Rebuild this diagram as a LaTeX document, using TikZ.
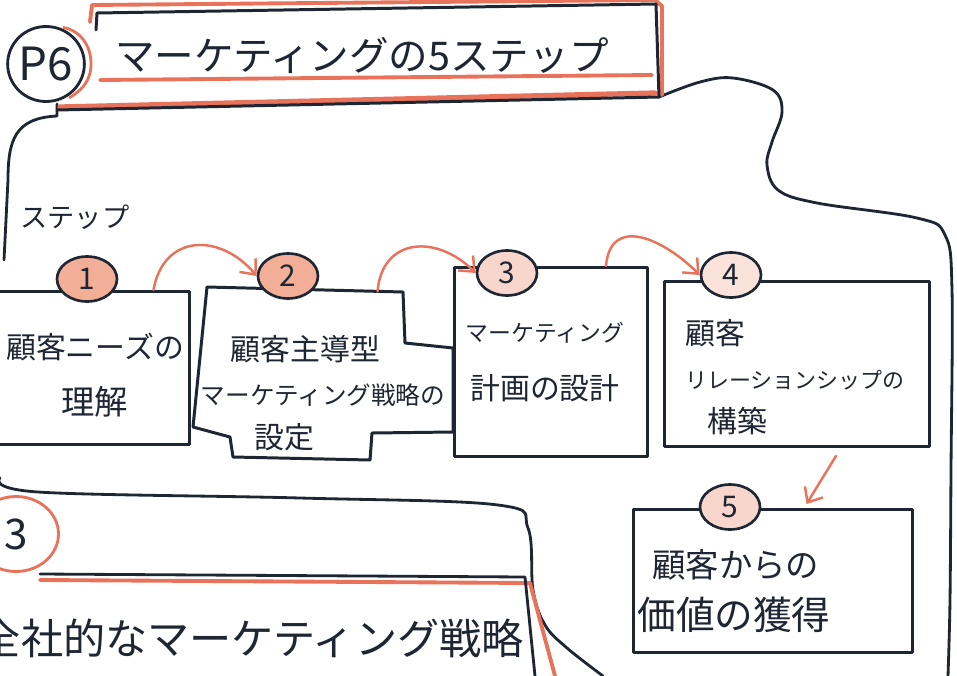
\documentclass[tikz,border=0pt]{standalone}
\usepackage{fontspec}
\setmainfont{Noto Sans CJK JP}
\usetikzlibrary{shapes.geometric,arrows.meta,calc}

\definecolor{ink}{HTML}{1F2633}
\definecolor{orng}{HTML}{E8735A}
\definecolor{orfill}{HTML}{F3AE98}
\newcommand\fsz[1]{\fontsize{#1}{#1}\selectfont}

\tikzset{
  frame/.style={draw=ink, line width=1.6pt, line cap=round, line join=round},
  stepbox/.style={draw=ink, line width=1.7pt, fill=white, line join=round},
  stepnum/.style={draw=ink, line width=1.5pt, ellipse, inner sep=0pt,
    minimum width=1.2cm, minimum height=0.9cm, text=ink, font=\fsz{17}},
  boxtext/.style={text=ink, inner sep=0pt, font={\fontsize{17}{#1}\selectfont}},
  boxtext/.default=30,
  flow/.style={draw=orng, line width=1.4pt, line cap=round,
    -{Straight Barb[length=7pt,width=12pt]}},
  redline/.style={draw=orng, line width=2.2pt, line cap=round, line join=round}
}

\begin{document}
\begin{tikzpicture}[x=0.02cm, y=-0.02cm]
    \fill[white] (0,0) rectangle (957,676);
    \useasboundingbox (0,0) rectangle (957,676);
    % Frame lines round the page
    \draw[frame] plot[smooth, tension=0.6] coordinates {(659,97) (700,82) (733,78) (773,90) (782,112) (772,142) (767,165) (778,190) (817,203) (917,218) (945,235) (952,290) (951,470) (950,600) (948,676)};
    \draw[frame] (57,104) -- (57,116) .. controls (15,118) and (8,140) .. (8,180) -- (4,260);
    \draw[frame] plot[smooth, tension=0.6] coordinates {(0,478) (38,492) (300,498) (498,505) (528,528) (533,590) (545,625) (567,648) (603,676)};
    % Section 3 heading
    \draw[redline] (40,580) -- (530,583) -- (555,676);
    \draw[frame] (40,574) -- (525,577) -- (535,676);
    \node[ellipse, draw=orng, line width=1.6pt, minimum width=1.7cm, minimum height=1.5cm, text=ink, font=\fsz{24}] (sec) at (16,534) {3};
    \node[text=ink, font=\fsz{24}, anchor=east] (sectitle) at (530,638) {全社的なマーケティング戦略};
    % Title box
    \draw[redline] (90,22) -- (92,5) -- (655,0) -- (662,6) -- (662,95);
    \draw[redline] (100,80) -- (652,75);
    \draw[redline, line width=3pt] (60,107) -- (655,93);
    \draw[frame, line width=1.7pt] (96,30) -- (97,13) -- (656,4) -- (659,97) -- (57,110);
    \node[text=ink, font=\fsz{22.5}] (title) at (362,55) {マーケティングの5ステップ};
    \node[ellipse, draw=ink, fill=white, line width=1.6pt, minimum width=1.24cm, minimum height=1.5cm, inner sep=0pt, text=ink, font=\fsz{26}] (pg) at (46,64) {P6};
    \draw[orng, line width=1.6pt] ([xshift=2pt]pg.70) to[out=-10, in=90] ([xshift=3pt]pg.east) to[out=-90, in=30] ([xshift=2pt]pg.-60);
    \node[text=ink, font=\fsz{15.5}] (steps) at (75,217) {ステップ};
    % Step boxes
    \node[stepbox, minimum width=4cm, minimum height=3.06cm] (b1) at (90,368) {};
    \draw[stepbox] (207,287) -- coordinate[pos=0.87] (b2n) (403,292) -- (405,343) -- (453,348) -- (453,432) -- (372,433) -- (370,460) -- (233,457) -- (230,437) -- (193,427) -- (197,387) -- cycle;
    \node[stepbox, minimum width=3.86cm, minimum height=3.78cm] (b3) at (551,362) {};
    \node[stepbox, minimum width=5.3cm, minimum height=3.3cm] (b4) at (797,364) {};
    \node[stepbox, minimum width=5.6cm, minimum height=2.86cm] (b5) at (773,581) {};
    % Box texts
    \node[boxtext=32, align=center] (t1) at (95,375) {顧客ニーズの\\{\fsz{19}理解}};
    \node[boxtext=25, align=left] (t2) at (323,393) {\hspace{1em}顧客主導型\\{\fsz{14}マーケティング戦略の}\\\hspace{1.8em}設定};
    \node[boxtext=33, align=center] (t3) at (545,362) {{\fsz{13}マーケティング}\\計画の設計};
    \node[boxtext=25, align=left] (t4) at (795,377) {顧客\\{\fsz{12.5}リレーションシップの}\\\hspace{0.75em}構築};
    \node[boxtext=30, align=left] (t5) at (734,591) {\hspace{0.5em}{\fsz{19}顧客からの}\\{\fsz{22}価値の獲得}};
    % Step numbers
    \foreach \n/\x/\y/\c in {1/87/279/orfill, 2/288/276/orfill, 3/507/273/orfill!50, 4/731/275/orfill!35, 5/730/507/orfill!50} {
        \node[stepnum, fill=\c] (c\n) at (\x,\y) {\n};
    }
    % Arrows between the steps
    \coordinate (e5) at ($(b5.north west)+(175,-4)$);
    \draw[flow] ($(b1.north east)+(-38,0)$) to[out=80, in=130, looseness=1.4] (c2.west);
    \draw[flow] (b2n) to[out=85, in=135, looseness=1.4] (c3.west);
    \draw[flow] ($(b3.north east)+(-43,0)$) to[out=85, in=135, looseness=1.4] (c4.west);
    \draw[flow] ($(b4.south east)+(-95,8)$) -- (e5);
\end{tikzpicture}
\end{document}
